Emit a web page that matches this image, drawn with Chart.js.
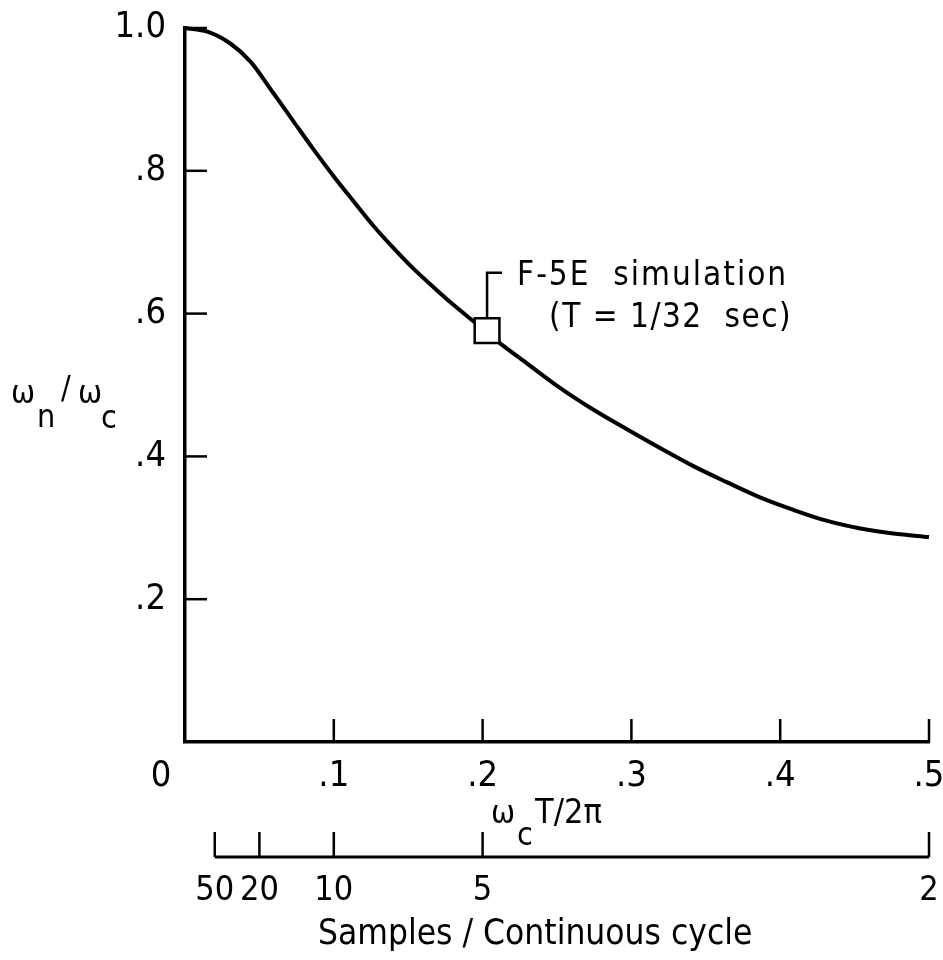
<!DOCTYPE html>
<html lang="en">
<head>
  <meta charset="UTF-8">
  <title>Natural frequency ratio vs sample rate</title>
  <style>
    body {
      margin: 0;
      background-color: #ffffff;
    }
    #chart-container {
      width: 943px;
      height: 960px;
    }
  </style>
</head>
<body>
  <div id="chart-container">
    <canvas id="ratioChart" width="943" height="960"></canvas>
  </div>

  <script src="https://cdn.jsdelivr.net/npm/chart.js"></script>
  <script>
    // curve: wcT/2pi vs wn/wc
    const omegaT = [0, 0.015, 0.030, 0.044, 0.059, 0.073, 0.086, 0.100, 0.113, 0.127, 0.140, 0.153, 0.167, 0.180, 0.194,
      0.212, 0.230, 0.252, 0.274, 0.297, 0.319, 0.342, 0.364, 0.386, 0.409, 0.431, 0.454, 0.476, 0.500];
    const freqRatio = [1.000, 0.995, 0.979, 0.953, 0.910, 0.869, 0.831, 0.792, 0.758, 0.722, 0.692, 0.664, 0.637, 0.613, 0.589,
      0.558, 0.530, 0.496, 0.466, 0.438, 0.412, 0.386, 0.364, 0.343, 0.325, 0.310, 0.299, 0.292, 0.287];
    const simPoint = [0.203];       // F-5E simulation, T = 1/32 sec
    const simRatio = [0.576];
    const xTickValues = [0, 0.1, 0.2, 0.3, 0.4, 0.5];
    const yTickValues = [0.2, 0.4, 0.6, 0.8, 1.0];
    const samplesPerCycle = [50, 20, 10, 5, 2];

    const FONT = '"DejaVu Sans Condensed", "Liberation Sans Narrow", "DejaVu Sans", sans-serif';

    function fmtDecimal(v) {
      if (v === 1) return '1.0';
      if (v === 0) return '';
      return String(+v.toFixed(2)).replace(/^0/, '');
    }

    // inward tick marks, secondary axis line and the hand-lettered labels
    const decorations = {
      id: 'decorations',
      afterDraw(chart) {
        const ctx = chart.ctx;
        const x = chart.scales.x;
        const y = chart.scales.y;
        const x2 = chart.scales.x2;
        const area = chart.chartArea;
        ctx.save();
        ctx.strokeStyle = '#000';
        ctx.lineWidth = 2.5;

        yTickValues.forEach(v => {
          const py = y.getPixelForValue(v);
          ctx.beginPath();
          ctx.moveTo(area.left, py);
          ctx.lineTo(area.left + 22, py);
          ctx.stroke();
        });
        xTickValues.slice(1).forEach(v => {
          const px = x.getPixelForValue(v);
          ctx.beginPath();
          ctx.moveTo(px, area.bottom);
          ctx.lineTo(px, area.bottom - 23);
          ctx.stroke();
        });

        // samples / cycle axis
        const sy = x2.top + 15;
        ctx.lineWidth = 3;
        ctx.beginPath();
        ctx.moveTo(x2.getPixelForValue(1 / samplesPerCycle[0]), sy);
        ctx.lineTo(x2.getPixelForValue(1 / samplesPerCycle[samplesPerCycle.length - 1]), sy);
        ctx.stroke();
        ctx.lineWidth = 2.5;
        samplesPerCycle.forEach(n => {
          const px = x2.getPixelForValue(1 / n);
          ctx.beginPath();
          ctx.moveTo(px, sy);
          ctx.lineTo(px, sy - 25);
          ctx.stroke();
        });

        // callout to the simulation point
        const mx = x.getPixelForValue(simPoint[0]);
        const my = y.getPixelForValue(simRatio[0]);
        ctx.lineWidth = 2.5;
        ctx.beginPath();
        ctx.moveTo(mx, my - 12);
        ctx.lineTo(mx, my - 58);
        ctx.lineTo(mx + 15, my - 58);
        ctx.stroke();

        ctx.fillStyle = '#000';
        ctx.textAlign = 'left';
        ctx.textBaseline = 'alphabetic';
        ctx.font = '33px ' + FONT;
        ctx.letterSpacing = '2px';
        ctx.fillText('F-5E  simulation', mx + 30, my - 46);
        ctx.letterSpacing = '1.5px';
        ctx.fillText('(T = 1/32  sec)', mx + 62, my - 4);
        ctx.letterSpacing = '0px';

        // origin label
        ctx.font = '36px ' + FONT;
        ctx.textAlign = 'center';
        ctx.textBaseline = 'middle';
        ctx.fillText('0', area.left - 24, area.bottom + 35);

        // y title  wn / wc
        ctx.textAlign = 'left';
        ctx.textBaseline = 'alphabetic';
        ctx.font = '32px ' + FONT;
        ctx.fillText('\u03c9', 11, 403);
        ctx.fillText('n', 37, 427);
        ctx.fillText('/', 61, 398);
        ctx.fillText('\u03c9', 78, 403);
        ctx.fillText('c', 101, 428);

        // x title  wcT/2pi
        ctx.fillText('\u03c9', 491, 823);
        ctx.fillText('c', 517, 845);
        ctx.font = '34px ' + FONT;
        ctx.fillText('T/2\u03c0', 535, 823);

        ctx.font = '35px ' + FONT;
        ctx.fillText('Samples / Continuous cycle', 318, 944);
        ctx.restore();
      }
    };

    const curve = omegaT.map((v, i) => ({ x: v, y: freqRatio[i] }));
    const sim = simPoint.map((v, i) => ({ x: v, y: simRatio[i] }));

    const ctx = document.getElementById('ratioChart').getContext('2d');
    const chart = new Chart(ctx, {
      type: 'scatter',
      data: {
        datasets: [
          {
            label: 'F-5E simulation',
            data: sim,
            order: 0,
            pointStyle: 'rect',
            pointRadius: 17.5,
            pointBackgroundColor: '#fff',
            pointBorderColor: '#000',
            pointBorderWidth: 2.5,
            clip: false
          },
          {
            label: 'wn/wc',
            data: curve,
            order: 1,
            showLine: true,
            borderColor: '#000',
            borderWidth: 4,
            pointRadius: 0,
            cubicInterpolationMode: 'monotone',
            clip: false
          }
        ]
      },
      options: {
        responsive: false,
        animation: false,
        layout: { autoPadding: false, padding: { top: 28, right: 14, bottom: 0, left: 0 } },
        plugins: {
          legend: { display: false },
          tooltip: { enabled: false },
          title: { display: false }
        },
        scales: {
          x: {
            type: 'linear',
            position: 'bottom',
            weight: 1,
            min: 0,
            max: 0.5,
            afterBuildTicks: s => { s.ticks = xTickValues.map(v => ({ value: v })); },
            afterFit: s => { s.height = 100; s.paddingLeft = 0; s.paddingRight = 0; },
            border: { display: true, color: '#000', width: 3.5 },
            grid: { display: false, drawTicks: false },
            ticks: {
              autoSkip: false,
              maxRotation: 0,
              padding: 13,
              color: '#000',
              font: { family: FONT, size: 36 },
              callback: v => fmtDecimal(v)
            }
          },
          x2: {
            type: 'linear',
            position: 'bottom',
            axis: 'x',
            weight: 2,
            min: 0,
            max: 0.5,
            afterBuildTicks: s => { s.ticks = samplesPerCycle.map(n => ({ value: 1 / n })); },
            afterFit: s => { s.height = 118; s.paddingLeft = 0; s.paddingRight = 0; },
            border: { display: false },
            grid: { display: false, drawTicks: false },
            ticks: {
              autoSkip: false,
              maxRotation: 0,
              padding: 29,
              color: '#000',
              font: { family: FONT, size: 34 },
              callback: v => String(Math.round(1 / v))
            }
          },
          y: {
            type: 'linear',
            min: 0,
            max: 1,
            afterBuildTicks: s => { s.ticks = [0].concat(yTickValues).map(v => ({ value: v })); },
            afterFit: s => { s.width = 185; s.paddingTop = 0; s.paddingBottom = 0; },
            border: { display: true, color: '#000', width: 3.5 },
            grid: { display: false, drawTicks: false },
            ticks: {
              autoSkip: false,
              padding: 19,
              color: '#000',
              font: { family: FONT, size: 36 },
              callback: v => fmtDecimal(v)
            }
          }
        }
      },
      plugins: [decorations]
    });
  </script>
</body>
</html>
